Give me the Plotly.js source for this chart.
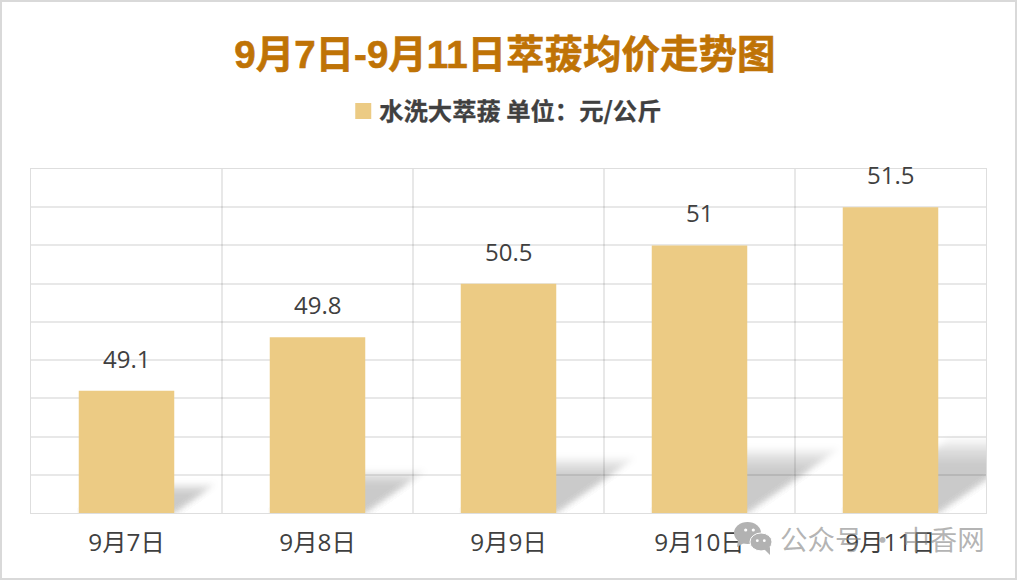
<!DOCTYPE html>
<html><head><meta charset="utf-8">
<script src="https://cdn.plot.ly/plotly-3.0.1.min.js"></script>
<style>
html,body{margin:0;padding:0;background:#fff;overflow:hidden}
#chart{width:1017px;height:580px}
#frame{position:absolute;left:0;top:0;width:1017px;height:580px;box-sizing:border-box;border:2px solid #d9d9d9;pointer-events:none}
.layer-subplot .shapelayer path{filter:blur(3px)}
.legendpoints path{d:path("M12,8H-4V-8H12Z")}
.gtitle{stroke:#BF7306;stroke-width:0.6px}
.legendtext{stroke:#404040;stroke-width:0.3px}
</style></head><body>
<div id="chart"></div><div id="frame"></div>
<script>
const categories = ["9月7日","9月8日","9月9日","9月10日","9月11日"];
const values = [49.1,49.8,50.5,51,51.5];
const labels = ["49.1","49.8","50.5","51","51.5"];
const seriesName = "水洗大萃菝 单位：元/公斤";
const chartTitle = "9月7日-9月11日萃菝均价走势图";
const axisMin = 47.5, axisMax = 52;
const barWidth = 0.5;
const cjk = '"Noto Sans CJK SC","Open Sans",sans-serif';
const titleFont = '"Liberation Sans","Noto Sans CJK SC",sans-serif';
const labelFont = '"Open Sans","Noto Sans CJK SC",sans-serif';

const shadowHeights = [0.24,0.22,0.20,0.17];
const shapes = [];
values.forEach((v,i)=>{
  shadowHeights.forEach(f=>{
    const h = (v-axisMin)*f;
    const dx = h*0.574;   // skew of the cast shadow, in category units per value unit
    const l = i-barWidth/2, r = i+barWidth/2;
    shapes.push({type:'path',xref:'x',yref:'y',layer:'below',line:{width:0},
      fillcolor:'rgba(0,0,0,0.055)',
      path:`M${l},${axisMin}L${r},${axisMin}L${r+dx},${axisMin+h}L${l+dx},${axisMin+h}Z`});
  });
});

const annotations = values.map((v,i)=>({x:i,y:v,xref:'x',yref:'y',text:labels[i],showarrow:false,xshift:-0.5,
  yanchor:'bottom',yshift:14,font:{family:labelFont,size:24,color:'#404040'}}));
annotations.push({xref:'paper',yref:'paper',x:1,xanchor:'right',xshift:1,y:-0.075,yshift:1,yanchor:'middle',showarrow:false,
  text:'公众号 · 中香网',font:{family:cjk,size:27.5,color:'rgba(130,130,130,0.6)'}});

// WeChat mark of the watermark (pixel positions converted to paper fractions)
const wm='rgb(178,178,178)';
const px = v => (v-31)/955;
const py = v => (513-v)/344.5;
const addCircle=(x0,x1,y0,y1,fill,line)=>shapes.push({type:'circle',xref:'paper',yref:'paper',layer:'above',
  line:line||{width:0},fillcolor:fill,x0:px(x0),x1:px(x1),y0:py(y1),y1:py(y0)});
const addTail=pts=>shapes.push({type:'path',xref:'paper',yref:'paper',layer:'above',line:{width:0},fillcolor:wm,
  path:'M'+pts.map(p=>px(p[0])+','+py(p[1])).join('L')+'Z'});
addCircle(734,761,522,544,wm);
addTail([[738,540],[744,543],[737,547]]);
addCircle(750,772,533,551,wm,{color:'#fff',width:1});
addTail([[764,549],[770,547],[770,555]]);
[[745.7,530],[753.3,530]].forEach(e=>addCircle(e[0]-1.6,e[0]+1.6,e[1]-1.6,e[1]+1.6,'#fff'));
[[757.3,540.7],[764.3,540.7]].forEach(e=>addCircle(e[0]-1.4,e[0]+1.4,e[1]-1.4,e[1]+1.4,'#fff'));

Plotly.newPlot('chart',[{
  type:'bar',x:categories,y:values,name:seriesName,width:barWidth,
  marker:{color:'#ECCB84',line:{width:0}},showlegend:true,hoverinfo:'x+y'
}],{
  width:1017,height:580,
  margin:{l:31,r:31,t:168.5,b:67,pad:0},
  paper_bgcolor:'#fff',plot_bgcolor:'#fff',
  title:{text:'<b>'+chartTitle+'</b>',x:0.4965,xanchor:'center',y:0.906,yanchor:'middle',
    font:{family:titleFont,size:38.5,color:'#BF7306'}},
  showlegend:true,
  legend:{orientation:'h',x:0.4945,xanchor:'center',y:1.168,yanchor:'middle',
    font:{family:cjk,size:24.3,color:'#404040',weight:700},itemclick:false,itemdoubleclick:false},
  xaxis:{type:'category',range:[-0.5,4.5],tickson:'boundaries',ticks:'',showgrid:true,gridcolor:'rgba(0,0,0,0.09)',gridwidth:1.5,
    showline:true,linecolor:'#dedede',linewidth:1,mirror:true,
    tickfont:{family:labelFont,size:24.3,color:'#404040'},ticklabelstandoff:8,fixedrange:true},
  yaxis:{range:[axisMin,axisMax],dtick:0.5,tick0:47.5,showgrid:true,gridcolor:'rgba(0,0,0,0.09)',gridwidth:1.5,
    showticklabels:false,ticks:'',zeroline:false,showline:true,linecolor:'#dedede',linewidth:1,mirror:true,fixedrange:true},
  shapes,annotations
},{displayModeBar:false,responsive:false});
</script></body></html>
